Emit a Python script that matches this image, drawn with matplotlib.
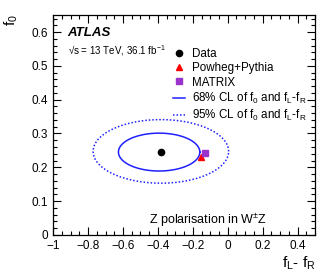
import matplotlib
matplotlib.use("Agg")
import matplotlib.pyplot as plt
import numpy as np
from matplotlib.lines import Line2D
from matplotlib.ticker import MultipleLocator

plt.rcParams['font.family'] = ['Liberation Sans', 'DejaVu Sans']
plt.rcParams['mathtext.fontset'] = 'custom'
plt.rcParams['mathtext.rm'] = 'Liberation Sans'

# Data
data_x, data_y = -0.385, 0.245
powheg_x, powheg_y = -0.155, 0.230
matrix_x, matrix_y = -0.130, 0.242
# ellipse (center x, center y, semi-axis x, semi-axis y)
cl68 = (-0.393, 0.245, 0.233, 0.056)
cl95 = (-0.383, 0.247, 0.388, 0.094)

fig = plt.figure(figsize=(3.32, 2.80), dpi=100)
ax = fig.add_axes([0.160, 0.161, 0.789, 0.785])

dot = (0, (1, 1.3))
t = np.linspace(0, 2 * np.pi, 400)
for (cx, cy, a, b), ls in [(cl68, '-'), (cl95, dot)]:
    ax.plot(cx + a * np.cos(t), cy + b * np.sin(t), color='#2020ff', lw=1.1, ls=ls)

ax.plot([data_x], [data_y], 'o', color='black', ms=4.5, zorder=5)
ax.plot([powheg_x], [powheg_y], '^', color='red', ms=5, zorder=5)
ax.plot([matrix_x], [matrix_y], 's', color='#9933cc', ms=4.5, zorder=6)

ax.set_xlim(-1, 0.5)
ax.set_ylim(0, 0.65)
ax.xaxis.set_minor_locator(MultipleLocator(0.05))
ax.yaxis.set_minor_locator(MultipleLocator(0.02))
ax.tick_params(which='both', direction='in', top=True, right=True, labelsize=8.5, width=0.8)
ax.tick_params(which='major', length=6)
ax.tick_params(which='minor', length=3)
ax.set_xticks([-1, -0.8, -0.6, -0.4, -0.2, 0, 0.2, 0.4])
ax.set_xticklabels(['\u22121', '\u22120.8', '\u22120.6', '\u22120.4', '\u22120.2', '0', '0.2', '0.4'])
ax.set_yticks([0, 0.1, 0.2, 0.3, 0.4, 0.5, 0.6])
ax.set_yticklabels(['0', '0.1', '0.2', '0.3', '0.4', '0.5', '0.6'])
for s in ax.spines.values():
    s.set_linewidth(0.9)

fig.text(0.035, 0.93, r'f$_0$', rotation=90, fontsize=11, ha='center', va='center')
fig.text(0.90, 0.06, r'f$_\mathrm{L}$- f$_\mathrm{R}$', fontsize=11, ha='center', va='center')

ax.text(0.055, 0.92, 'ATLAS', transform=ax.transAxes, fontsize=9.5, fontweight='bold', fontstyle='italic', va='center')
ax.text(0.055, 0.84, '\u221as = 13 TeV, 36.1 fb$^{-1}$', transform=ax.transAxes, fontsize=7, va='center')
ax.text(0.59, 0.068, r'Z polarisation in W$^{\pm}$Z', transform=ax.transAxes, fontsize=9, ha='center', va='center')

handles = [
    Line2D([], [], marker='o', color='black', ls='none', ms=4.5),
    Line2D([], [], marker='^', color='red', ls='none', ms=5),
    Line2D([], [], marker='s', color='#9933cc', ls='none', ms=4.5),
    Line2D([], [], color='#2020ff', lw=1.1, ls='-'),
    Line2D([], [], color='#2020ff', lw=1.1, ls=dot),
]
labels = ['Data', 'Powheg+Pythia', 'MATRIX',
          r'68% CL of f$_0$ and f$_\mathrm{L}$-f$_\mathrm{R}$',
          r'95% CL of f$_0$ and f$_\mathrm{L}$-f$_\mathrm{R}$']
ax.legend(handles, labels, loc='upper left', bbox_to_anchor=(0.44, 0.87), frameon=False,
          fontsize=8.4, handlelength=1.0, handletextpad=0.6, labelspacing=0.18, borderaxespad=0)

fig.savefig('out.png', dpi=100)
